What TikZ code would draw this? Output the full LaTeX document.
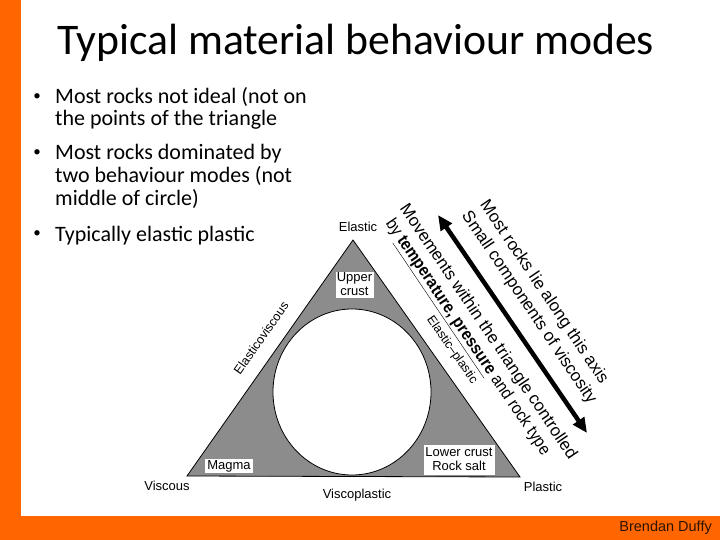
\documentclass[tikz,border=0pt]{standalone}
\usepackage{fontspec}
\usepackage{graphicx}
\setmainfont{Carlito}
\newfontfamily\arialf{Liberation Sans}
\usetikzlibrary{arrows.meta}
\definecolor{slideorange}{RGB}{255,102,0}
\definecolor{footertext}{RGB}{45,20,0}
\begin{document}
\begin{tikzpicture}[x=1pt,y=-1pt,
  every node/.style={inner sep=0pt},
  bullettext/.style={anchor=base west, font=\fontsize{22}{24}\selectfont},
  bulletdot/.style={anchor=center, font=\fontsize{15}{16}\selectfont},
  cornerlab/.style={font=\arialf\fontsize{13}{15}\selectfont},
  sidelab/.style={font=\arialf\fontsize{12.5}{15}\selectfont},
  boxlab/.style={font=\arialf\fontsize{13}{14}\selectfont, fill=white, align=center},
  rottext/.style={anchor=west, rotate=-56, font=\arialf\fontsize{17}{19}\selectfont},
  bigarrow/.style={line width=4.5pt, {Triangle[length=15pt,width=13pt]}-{Triangle[length=15pt,width=13pt]}},
  stipple/.style={fill=black!45, draw=black, line width=0.8pt}
]
\useasboundingbox (0,0) rectangle (720,540);
\fill[white] (0,0) rectangle (720,540);
\fill[slideorange] (0,0) rectangle (21,540);
\fill[slideorange] (0,516) rectangle (720,540);

% title
\node[anchor=base west, font=\fontsize{43.7}{50}\selectfont] (title) at (57,55) {Typical material behaviour modes};

% bullets
\node[bulletdot] (d1) at (37,97) {•};
\node[bullettext] (b1a) at (55,104) {Most rocks not ideal (not on};
\node[bullettext] (b1b) at (55,126) {the points of the triangle};
\node[bulletdot] (d2) at (37,153) {•};
\node[bullettext] (b2a) at (55,160) {Most rocks dominated by};
\node[bullettext] (b2b) at (55,183) {two behaviour modes (not};
\node[bullettext] (b2c) at (55,206) {middle of circle)};
\node[bulletdot] (d3) at (37,234) {•};
\node[bullettext] (b3a) at (55,241) {Typically elastic plastic};

% triangle diagram
\coordinate (vL) at (187,476);
\coordinate (vR) at (520,477);
\coordinate (vT) at (353,240);
\draw[stipple] (vL) -- (vR) -- (vT) -- cycle;
\draw[fill=white, line width=0.8pt] (352,392) ellipse [x radius=79, y radius=83];

\node[boxlab, minimum width=38pt, minimum height=26pt] (upper) at (354.5,284.5) {Upper\\crust};
\node[boxlab, minimum width=48pt, minimum height=14pt] (magma) at (229,466) {Magma};
\node[boxlab, minimum width=71pt, minimum height=30pt] (lower) at (459,459.5) {Lower crust\\Rock salt};

\node[cornerlab] (elastic) at (358,227) {Elastic};
\node[cornerlab] (viscous) at (167,486) {Viscous};
\node[cornerlab] (viscoplastic) at (357,495) {Viscoplastic};
\node[cornerlab] (plastic) at (543,487) {Plastic};
\node[sidelab, rotate=55] (elvisc) at (261,338) {Elasticoviscous};
\node[sidelab, rotate=-55] (elpl) at (452,350) {Elastic–plastic};

% rotated annotation
\coordinate (arrA) at (438,215);
\coordinate (arrB) at (587,433);
\draw[bigarrow] (arrA) -- (arrB);
\node[rottext] (l1) at (483.2,202.3) {Most rocks lie along this axis};
\node[rottext] (l2) at (465,213) {Small components of viscosity};
\node[rottext] (l3) at (403,206) {Movements within the triangle controlled};
\node[rottext] (l4) at (388,221) {\scalebox{0.91}[1]{by \underline{\textbf{temperature, pressure}} and rock type}};

% footer
\node[anchor=east, font=\arialf\fontsize{14.5}{16}\selectfont, text=footertext] (author) at (712,528) {Brendan Duffy};
\end{tikzpicture}
\end{document}
